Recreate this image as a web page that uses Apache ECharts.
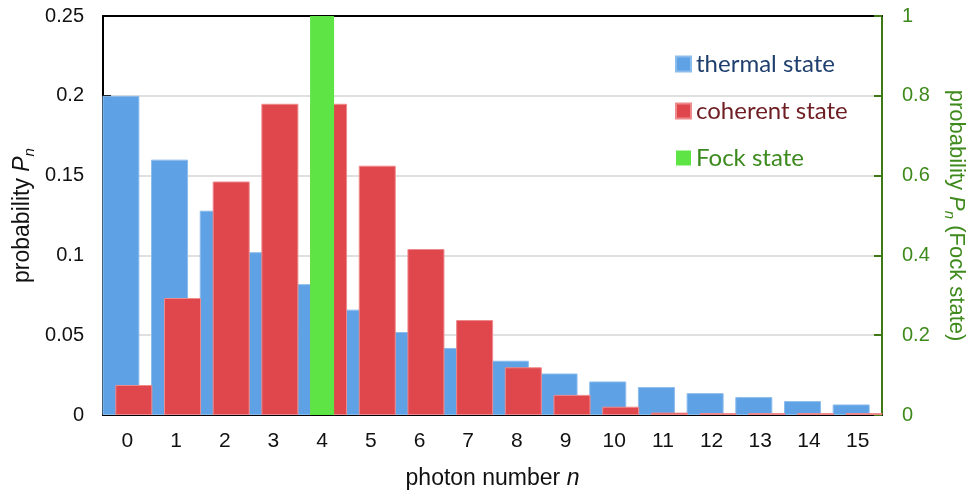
<!DOCTYPE html>
<html>
<head>
<meta charset="utf-8">
<script src="https://cdn.jsdelivr.net/npm/echarts@6/dist/echarts.min.js"></script>
<style>html,body{margin:0;padding:0;background:#fff}#c{width:971px;height:492px}</style>
</head>
<body>
<div id="c"></div>
<script>
const categories = ['0','1','2','3','4','5','6','7','8','9','10','11','12','13','14','15'];
const thermal = [0.2, 0.16, 0.128, 0.102, 0.082, 0.066, 0.052, 0.042, 0.034, 0.026, 0.021, 0.0175, 0.0137, 0.0112, 0.0087, 0.0066];
const coherent = [0.0188, 0.0733, 0.1463, 0.1950, 0.1950, 0.1562, 0.1040, 0.0595, 0.0299, 0.0126, 0.0052, 0.0015, 0.0012, 0.0012, 0.0012, 0.0012];
const fock = [0, 0, 0, 0, 1, 0, 0, 0, 0, 0, 0, 0, 0, 0, 0, 0];
const leftTicks = { min: 0, max: 0.25, interval: 0.05 };
const rightTicks = { min: 0, max: 1, interval: 0.2 };

const chart = echarts.init(document.getElementById('c'));
const green = '#3f8a1c';
const sansFont = "'Liberation Sans', Arial, sans-serif";
chart.setOption({
  animation: false,
  backgroundColor: '#fff',
  grid: { left: 103, right: 89, top: 16, bottom: 77, containLabel: false, outerBoundsMode: 'none' },
  legend: {
    orient: 'vertical', left: 670, top: 47, itemWidth: 15, itemHeight: 15, itemGap: 23,
    icon: 'rect',
    textStyle: { fontFamily: 'Lato, sans-serif', fontSize: 24 },
    data: [
      { name: 'thermal state', textStyle: { color: '#1f3f6e' } },
      { name: 'coherent state', textStyle: { color: '#6e1d22' } },
      { name: 'Fock state', textStyle: { color: '#3c8a1e' } }
    ]
  },
  xAxis: [
    {
      type: 'category', data: categories, position: 'bottom',
      name: 'photon number {i|n}', nameLocation: 'middle', nameGap: 52,
      nameTextStyle: { fontFamily: sansFont, fontSize: 23, color: '#111',
        rich: { i: { fontStyle: 'italic', fontFamily: sansFont, fontSize: 23, color: '#111' } } },
      axisLine: { onZero: false, lineStyle: { color: '#000', width: 2 } },
      axisTick: { show: false },
      axisLabel: { fontFamily: sansFont, fontSize: 21, color: '#111', margin: 16 },
      splitLine: { show: false }
    },
    {
      type: 'category', data: categories, position: 'top',
      axisLine: { show: true, onZero: false, lineStyle: { color: '#000', width: 2 } },
      axisTick: { show: false }, axisLabel: { show: false }, splitLine: { show: false }
    }
  ],
  yAxis: [
    {
      type: 'value', min: leftTicks.min, max: leftTicks.max, interval: leftTicks.interval, position: 'left',
      name: 'probability {i|P}{sub|n}', nameLocation: 'middle', nameGap: 66, nameMoveOverlap: false,
      nameTextStyle: { fontFamily: sansFont, fontSize: 23, color: '#111',
        rich: {
          i: { fontStyle: 'italic', fontFamily: sansFont, fontSize: 23, color: '#111' },
          sub: { fontStyle: 'italic', fontFamily: sansFont, fontSize: 15, color: '#111', verticalAlign: 'bottom', padding: [14, 0, 0, 0] }
        } },
      axisLine: { show: true, onZero: false, lineStyle: { color: '#000', width: 2 } },
      axisTick: { show: true, inside: true, length: 8, lineStyle: { color: '#000', width: 2 } },
      axisLabel: { fontFamily: sansFont, fontSize: 20, color: '#111', margin: 19 },
      splitLine: { show: true, lineStyle: { color: '#d6d6d6', width: 1.5 } }
    },
    {
      type: 'value', min: rightTicks.min, max: rightTicks.max, interval: rightTicks.interval, position: 'right',
      name: 'probability {i|P}{sub|n} (Fock state)', nameLocation: 'middle', nameGap: 60, nameRotate: -90,
      nameTextStyle: { fontFamily: sansFont, fontSize: 22, color: green,
        rich: {
          i: { fontStyle: 'italic', fontFamily: sansFont, fontSize: 22, color: green },
          sub: { fontStyle: 'italic', fontFamily: sansFont, fontSize: 15, color: green, verticalAlign: 'bottom', padding: [14, 0, 0, 0] }
        } },
      axisLine: { show: true, onZero: false, lineStyle: { color: '#3d7a16', width: 2 } },
      axisTick: { show: true, inside: true, length: 8, lineStyle: { color: '#3d7a16', width: 2 } },
      axisLabel: { fontFamily: sansFont, fontSize: 20, color: green, margin: 20 },
      splitLine: { show: false }
    }
  ],
  series: [
    {
      name: 'thermal state', type: 'bar', xAxisIndex: 0, yAxisIndex: 0, data: thermal,
      barWidth: 37, barGap: '-65%',
      itemStyle: { color: '#5ea2e5', borderColor: '#8cbcec', borderWidth: 1 }
    },
    {
      name: 'coherent state', type: 'bar', xAxisIndex: 0, yAxisIndex: 0, data: coherent,
      barWidth: 37, barGap: '-65%',
      itemStyle: { color: '#e0474c', borderColor: '#ee8a8c', borderWidth: 1 }
    },
    {
      name: 'Fock state', type: 'bar', xAxisIndex: 1, yAxisIndex: 1, data: fock,
      barWidth: 24,
      itemStyle: { color: '#5ee545' }
    }
  ]
});
</script>
</body>
</html>
